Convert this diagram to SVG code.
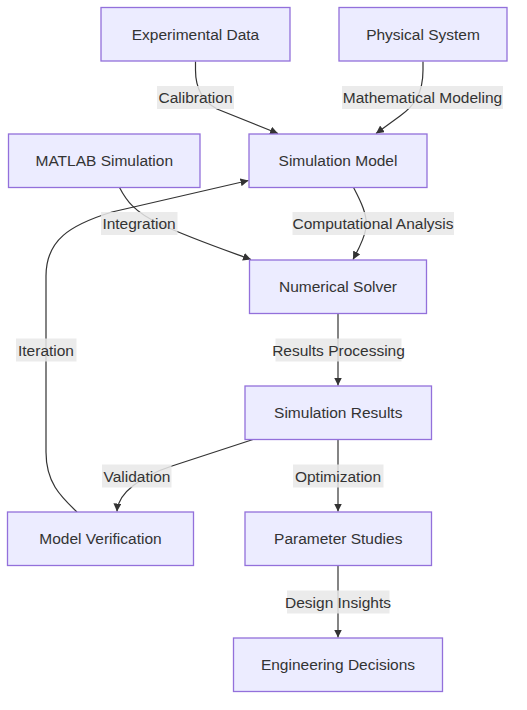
<svg xmlns="http://www.w3.org/2000/svg" width="527" height="710" viewBox="0 0 527 710">
<style>
.node rect{fill:#ECECFF;stroke:#9370DB;stroke-width:1.3}
text{font-family:"Liberation Sans",Arial,sans-serif;font-size:15.5px;fill:#333;text-anchor:middle;dominant-baseline:central}
.edge{fill:none;stroke:#333;stroke-width:1.2}
.lbl rect{fill:#e8e8e8;fill-opacity:0.85}
</style>
<defs>
<marker id="arr" viewBox="0 0 10 10" refX="10" refY="5" markerUnits="userSpaceOnUse" markerWidth="8" markerHeight="8" orient="auto">
<path d="M0,0 L10,5 L0,10 z" fill="#333"/>
</marker>
</defs>
<rect width="527" height="710" fill="#fff"/>
<g id="edges">
<path class="edge" marker-end="url(#arr)" d="M195.5,61.5 L195.5,70 C195.5,90 204,102 217,109 L278,133.5"/>
<path class="edge" marker-end="url(#arr)" d="M423,61.5 L423,70 C423,94 414,106 400,116 L376,133.5"/>
<path class="edge" marker-end="url(#arr)" d="M119.5,187.5 C126,200 134,212 160,224 C190,238 225,250 251,259.5"/>
<path class="edge" marker-end="url(#arr)" d="M353.5,187.5 C360,200 368,215 366,228 C364,240 358,250 353,259.5"/>
<path class="edge" marker-end="url(#arr)" d="M338,313.5 L338,385.5"/>
<path class="edge" marker-end="url(#arr)" d="M253,439.5 L172,466 C142,476 118,492 117,511.5"/>
<path class="edge" marker-end="url(#arr)" d="M77,512 C60,496 46,482 46,452 L46,276 C46,240 70,225 112,212 L248.5,180.5"/>
<path class="edge" marker-end="url(#arr)" d="M338,439.5 L338,511.5"/>
<path class="edge" marker-end="url(#arr)" d="M338,565.5 L338,637.5"/>
</g>
<g id="edge-labels">
<g class="lbl"><rect x="157" y="86" width="77" height="23"/><text x="195.5" y="97.5">Calibration</text></g>
<g class="lbl"><rect x="342" y="86" width="161" height="23"/><text x="422.5" y="97.5">Mathematical Modeling</text></g>
<g class="lbl"><rect x="101" y="212" width="76.5" height="23"/><text x="139" y="223.5">Integration</text></g>
<g class="lbl"><rect x="292.5" y="212" width="161.5" height="23"/><text x="373" y="223.5">Computational Analysis</text></g>
<g class="lbl"><rect x="16" y="338.5" width="60.5" height="23"/><text x="46" y="350">Iteration</text></g>
<g class="lbl"><rect x="275.5" y="338.5" width="126" height="23"/><text x="338.5" y="350">Results Processing</text></g>
<g class="lbl"><rect x="102" y="464.5" width="69.5" height="23"/><text x="137" y="476">Validation</text></g>
<g class="lbl"><rect x="293" y="464.5" width="90.5" height="23"/><text x="338" y="476">Optimization</text></g>
<g class="lbl"><rect x="287" y="590.5" width="102.5" height="23"/><text x="338" y="602">Design Insights</text></g>
</g>
<g id="n-experimental" class="node"><rect x="101" y="7.5" width="189" height="53.5"/><text x="195.5" y="34.25">Experimental Data</text></g>
<g id="n-physical" class="node"><rect x="339" y="7.5" width="168" height="53.5"/><text x="423" y="34.25">Physical System</text></g>
<g id="n-matlab" class="node"><rect x="8.5" y="134" width="191.5" height="53.5"/><text x="104.25" y="160.75">MATLAB Simulation</text></g>
<g id="n-model" class="node"><rect x="249" y="134" width="178" height="53.5"/><text x="338" y="160.75">Simulation Model</text></g>
<g id="n-solver" class="node"><rect x="249.5" y="260" width="177" height="53.5"/><text x="338" y="286.75">Numerical Solver</text></g>
<g id="n-results" class="node"><rect x="245" y="386" width="186.5" height="53.5"/><text x="338.25" y="412.75">Simulation Results</text></g>
<g id="n-verification" class="node"><rect x="7.5" y="512" width="186" height="53.5"/><text x="100.5" y="538.75">Model Verification</text></g>
<g id="n-parameter" class="node"><rect x="245" y="512" width="186.5" height="53.5"/><text x="338.25" y="538.75">Parameter Studies</text></g>
<g id="n-decisions" class="node"><rect x="233.5" y="638" width="209" height="53.5"/><text x="338" y="664.75">Engineering Decisions</text></g>
</svg>
